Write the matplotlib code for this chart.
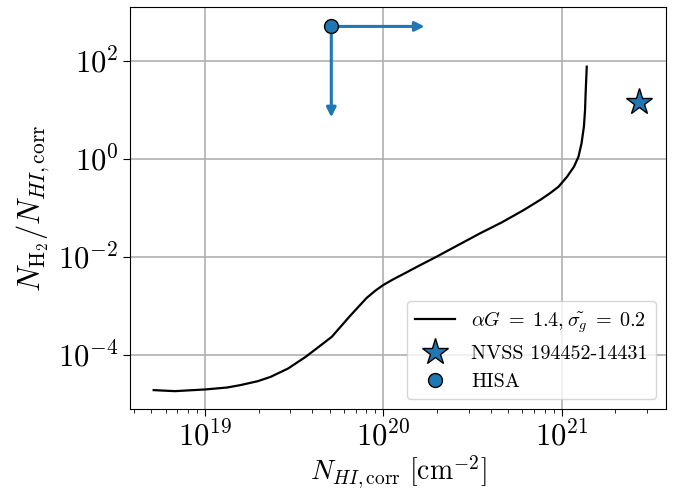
import matplotlib
matplotlib.use("Agg")
import matplotlib.pyplot as plt

plt.rcParams.update({
    "mathtext.fontset": "cm",
    "font.family": "serif",
    "font.serif": ["cmr10", "DejaVu Serif"],
    "axes.formatter.use_mathtext": True,
})

# model curve: alpha G = 1.4, sigma_g = 0.2
curve_nhi = [5.15e18, 6.76e18, 1.00e19, 1.33e19, 1.57e19, 1.97e19, 2.33e19,
             2.92e19, 3.66e19, 4.34e19, 5.13e19, 5.74e19, 6.43e19, 7.19e19,
             8.05e19, 9.02e19, 9.95e19, 1.13e20, 1.26e20, 1.58e20, 1.98e20,
             2.62e20, 3.48e20, 4.61e20, 6.11e20, 7.64e20, 8.57e20, 9.59e20,
             1.07e21, 1.17e21, 1.24e21, 1.29e21, 1.33e21, 1.35e21, 1.36e21,
             1.38e21]
curve_ratio = [1.91e-5, 1.82e-5, 1.97e-5, 2.16e-5, 2.41e-5, 2.90e-5, 3.56e-5,
               5.27e-5, 9.10e-5, 1.46e-4, 2.33e-4, 3.72e-4, 5.97e-4, 9.30e-4,
               1.45e-3, 2.05e-3, 2.64e-3, 3.45e-3, 4.24e-3, 6.55e-3, 1.0e-2,
               1.73e-2, 3.01e-2, 5.04e-2, 8.97e-2, 0.148, 0.197, 0.269,
               0.430, 0.687, 1.10, 2.06, 4.50, 9.86, 21.6,
               75.5]

# NVSS source
nvss_nhi = [2.7e21]
nvss_ratio = [14.5]

# HISA limits (lower limit in N_HI, upper limit in ratio)
hisa_nhi = 5.1e19
hisa_ratio = 500.0
hisa_nhi_arrow_end = 1.7e20
hisa_ratio_arrow_end = 7.0

blue = "#1f77b4"

fig = plt.figure(figsize=(6.85, 4.93), dpi=100)
ax = fig.add_axes([0.19, 0.170, 0.782, 0.816])

ax.plot(curve_nhi, curve_ratio, color="black", lw=1.6,
        label=r"$\alpha G \;=\; 1.4, \tilde{\sigma_g} \;=\; 0.2$")
ax.plot(nvss_nhi, nvss_ratio, ls="none", marker="*", ms=20, color=blue,
        mec="black", mew=1.0, label="NVSS 194452-14431")

arrow_kw = dict(arrowstyle="-|>", color=blue, lw=2.2, mutation_scale=14,
                shrinkA=0, shrinkB=0)
ax.annotate("", xy=(hisa_nhi_arrow_end, hisa_ratio),
            xytext=(hisa_nhi, hisa_ratio), arrowprops=arrow_kw)
ax.annotate("", xy=(hisa_nhi, hisa_ratio_arrow_end),
            xytext=(hisa_nhi, hisa_ratio), arrowprops=arrow_kw)
ax.plot([hisa_nhi], [hisa_ratio], ls="none", marker="o", ms=10, color=blue,
        mec="black", mew=1.0, zorder=5, label="HISA")

ax.set_xscale("log")
ax.set_yscale("log")
ax.set_xlim(3.8e18, 3.83e21)
ax.set_ylim(7.8e-6, 1250)
ax.set_yticks([1e-4, 1e-2, 1e0, 1e2])
ax.yaxis.set_minor_locator(matplotlib.ticker.NullLocator())

ax.grid(True, which="major", color="#b0b0b0", lw=1.2)
ax.tick_params(axis="both", which="major", labelsize=22, length=5)
ax.tick_params(axis="x", which="minor", length=3)

ax.set_xlabel(r"$N_{HI,\mathrm{corr}}\ [\mathrm{cm}^{-2}]$", fontsize=20,
              labelpad=1)
ax.set_ylabel(r"$N_{\mathrm{H}_2}/N_{HI,\mathrm{corr}}$", fontsize=22)

ax.legend(loc="lower right", fontsize=14.5, framealpha=0.8)

fig.savefig("out.png", dpi=100)
